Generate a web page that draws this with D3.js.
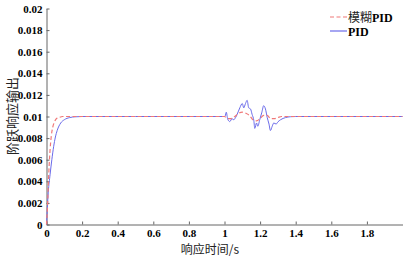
<!DOCTYPE html>
<html><head><meta charset="utf-8">
<script src="https://cdn.jsdelivr.net/npm/d3@7"></script>
<style>
html,body{margin:0;padding:0;background:#fff;}
svg{display:block;}
</style></head>
<body>
<svg id="chart" width="405" height="256"></svg>
<script>
// ---- data ----
const xTicks = [0, 0.2, 0.4, 0.6, 0.8, 1, 1.2, 1.4, 1.6, 1.8];
const xTickLabels = ["0", "0.2", "0.4", "0.6", "0.8", "1", "1.2", "1.4", "1.6", "1.8"];
const yTicks = [0, 0.002, 0.004, 0.006, 0.008, 0.01, 0.012, 0.014, 0.016, 0.018, 0.02];
const yTickLabels = ["0", "0.002", "0.004", "0.006", "0.008", "0.01", "0.012", "0.014", "0.016", "0.018", "0.02"];
const seriesNames = ["模糊PID", "PID"];

const fuzzyT = [0, 0.005, 0.01, 0.015, 0.02, 0.027, 0.035, 0.045, 0.055, 0.07, 0.09, 0.5,
  1.0, 1.01, 1.02, 1.035, 1.05, 1.065, 1.08, 1.1, 1.12, 1.14, 1.16, 1.18, 1.2, 1.22, 1.24, 1.26, 1.28, 1.3, 1.32, 1.36, 1.4, 2.0];
const fuzzyV = [0, 0.0014, 0.0036, 0.0055, 0.0069, 0.0082, 0.009, 0.0095, 0.0098, 0.0099, 0.01, 0.01,
  0.01, 0.0099, 0.0098, 0.0098, 0.0099, 0.0101, 0.0103, 0.0104, 0.0103, 0.0101, 0.0097, 0.0096, 0.0098, 0.0101, 0.0101, 0.0098, 0.0098, 0.0099, 0.01, 0.01, 0.01, 0.01];

const pidT = [0, 0.005, 0.01, 0.02, 0.03, 0.04, 0.05, 0.06, 0.08, 0.1, 0.13, 0.16, 0.2, 0.5,
  1.0, 1.004, 1.01, 1.018, 1.03, 1.042, 1.052, 1.062, 1.071, 1.086, 1.1, 1.108, 1.118, 1.127, 1.136, 1.146, 1.155, 1.165, 1.17, 1.18, 1.187, 1.198, 1.21, 1.22, 1.23, 1.24, 1.25, 1.258, 1.268, 1.277, 1.29, 1.3, 1.315, 1.343, 1.37, 1.4, 2.0];
const pidV = [0, 0.0016, 0.003, 0.0046, 0.006, 0.0072, 0.0081, 0.0087, 0.0094, 0.0097, 0.0099, 0.00997, 0.01, 0.01,
  0.01, 0.01005, 0.0104, 0.00975, 0.00953, 0.0098, 0.0097, 0.0099, 0.0102, 0.0108, 0.0112, 0.0108, 0.0112, 0.0115, 0.0108, 0.0107, 0.0102, 0.0096, 0.0089, 0.0094, 0.0091, 0.0097, 0.0104, 0.011, 0.0107, 0.0099, 0.0093, 0.0087, 0.0091, 0.0094, 0.0093, 0.0095, 0.0097, 0.0099, 0.00998, 0.01, 0.01];

// ---- chart ----
const svg = d3.select("#chart");
const x = d3.scaleLinear().domain([0, 2]).range([46.5, 402.5]);
const y = d3.scaleLinear().domain([0, 0.02]).range([224.5, 8.5]);

const axisColor = "#666";
const tickFont = "Liberation Serif, Times New Roman, serif";

function styleTicks(g) {
  g.attr("font-family", tickFont).attr("font-size", 11).attr("font-weight", "bold");
  g.select(".domain").attr("stroke", axisColor);
  g.selectAll(".tick line").attr("stroke", axisColor);
  g.selectAll(".tick text")
    .style("font-family", tickFont)
    .style("font-weight", "700")
    .style("font-size", "11px")
    .style("fill", "#000");
}

// x axis
const gx = svg.append("g").attr("transform", `translate(0,${y(0)})`)
  .call(d3.axisBottom(x).tickValues(xTicks).tickSizeInner(-3).tickSizeOuter(0)
    .tickFormat((d, i) => xTickLabels[i]).tickPadding(5));
styleTicks(gx);

// y axis
const gy = svg.append("g").attr("transform", `translate(${x(0)},0)`)
  .call(d3.axisLeft(y).tickValues(yTicks).tickSizeInner(-3).tickSizeOuter(0)
    .tickFormat((d, i) => yTickLabels[i]).tickPadding(4));
styleTicks(gy);

// lines
const line = d3.line().x(d => x(d[0])).y(d => y(d[1])).curve(d3.curveMonotoneX);
const fuzzy = fuzzyT.map((t, i) => [t, fuzzyV[i]]);
const pid = pidT.map((t, i) => [t, pidV[i]]);

svg.append("path").datum(pid).attr("d", line).attr("fill", "none")
  .attr("stroke", "#6b6bea").attr("stroke-width", 1);
svg.append("path").datum(fuzzy).attr("d", line).attr("fill", "none")
  .attr("stroke", "#f07878").attr("stroke-width", 1.2).attr("stroke-dasharray", "4,2.5");

// axis labels
svg.append("text").attr("x", 210).attr("y", 254).attr("text-anchor", "middle")
  .style("font-family", "Noto Sans CJK SC, sans-serif").style("font-size", "12px").attr("fill", "#222")
  .text("响应时间/s");
svg.append("text").attr("transform", "translate(17,116) rotate(-90)").attr("text-anchor", "middle")
  .style("font-family", "Noto Sans CJK SC, sans-serif").style("font-size", "13px").attr("fill", "#222")
  .text("阶跃响应输出");

// legend
const leg = svg.append("g");
const legItems = [
  {name: seriesNames[0], color: "#f07878", dash: "4,2.5", yy: 17},
  {name: seriesNames[1], color: "#6b6bea", dash: null, yy: 31}
];
legItems.forEach(it => {
  leg.append("line").attr("x1", 330).attr("x2", 347).attr("y1", it.yy).attr("y2", it.yy)
    .attr("stroke", it.color).attr("stroke-width", 1.2).attr("stroke-dasharray", it.dash);
  const t = leg.append("text").attr("x", 348).attr("y", it.yy + 4.5).style("font-size", "12px").attr("fill", "#000");
  const m = it.name.match(/^([^A-Za-z]*)(.*)$/);
  if (m[1]) t.append("tspan").style("font-family", "Noto Sans CJK SC, sans-serif").attr("fill", "#222").text(m[1]);
  t.append("tspan").style("font-family", tickFont).style("font-weight", "bold").text(m[2]);
});
</script>
</body></html>
